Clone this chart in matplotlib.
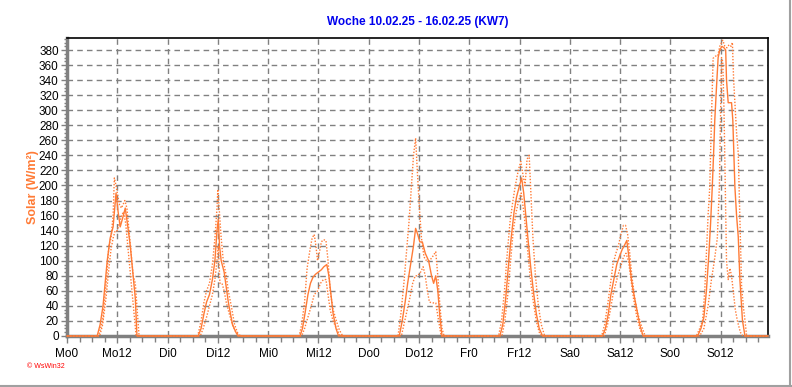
import numpy as np
import matplotlib.pyplot as plt

# Solar radiation, week 10.02.25 - 16.02.25; hours are local hour of each day
days = ['Mo', 'Di', 'Mi', 'Do', 'Fr', 'Sa', 'So']

mo_mean_h = [7.2, 7.9, 8.6, 9.6, 10.3, 11.0, 11.7, 12.2, 12.7, 13.2, 13.9, 14.4, 15.1, 15.8, 16.3, 16.7]
mo_mean_v = [0, 15, 40, 100, 130, 145, 190, 165, 145, 155, 170, 150, 120, 80, 50, 0]
mo_max_h = [7.5, 8.5, 9.5, 10.0, 10.5, 11.0, 11.3, 11.7, 12.0, 12.5, 13.0, 13.8, 14.3, 14.8, 15.3, 15.8, 16.3, 16.8, 17.2]
mo_max_v = [0, 20, 80, 120, 130, 160, 210, 200, 190, 175, 170, 180, 170, 140, 110, 80, 70, 30, 0]
mo_min_h = [7.8, 8.5, 9.3, 10.0, 10.5, 11.0, 11.5, 12.0, 12.5, 13.0, 13.5, 14.0, 14.5, 15.0, 15.5, 16.0, 16.5]
mo_min_v = [0, 15, 50, 90, 115, 130, 140, 140, 150, 160, 165, 150, 120, 90, 60, 30, 0]

di_mean_h = [7.3, 8.0, 8.7, 9.3, 10.0, 10.7, 11.3, 11.8, 12.1, 12.4, 12.8, 13.5, 14.0, 14.5, 15.0, 15.5, 16.3, 16.8]
di_mean_v = [0, 10, 30, 45, 55, 75, 100, 140, 155, 120, 100, 85, 65, 45, 30, 15, 5, 0]
di_max_h = [7.2, 8.0, 8.7, 9.3, 10.0, 10.7, 11.3, 11.8, 12.0, 12.3, 12.8, 13.3, 14.0, 14.5, 15.2, 16.0, 17.0]
di_max_v = [0, 20, 45, 60, 70, 95, 130, 170, 195, 170, 130, 100, 80, 60, 40, 15, 0]
di_min_h = [7.8, 8.5, 9.3, 10.0, 10.7, 11.3, 11.8, 12.1, 12.5, 13.0, 13.5, 14.0, 14.7, 15.5, 16.3, 17.5]
di_min_v = [0, 10, 25, 40, 55, 75, 100, 120, 70, 70, 60, 45, 30, 15, 5, 0]

mi_mean_h = [7.6, 8.2, 8.8, 9.5, 10.1, 10.7, 11.3, 12.0, 12.7, 13.3, 14.0, 14.5, 15.0, 15.5, 16.2, 16.8]
mi_mean_v = [0, 10, 30, 55, 70, 78, 82, 85, 88, 92, 95, 80, 55, 30, 10, 0]
mi_max_h = [7.4, 8.0, 8.7, 9.3, 10.0, 10.5, 11.0, 11.4, 11.8, 12.2, 12.7, 13.2, 13.8, 14.3, 14.8, 15.5, 16.3, 17.0, 17.8]
mi_max_v = [0, 15, 45, 90, 115, 130, 135, 120, 100, 110, 125, 128, 127, 100, 60, 35, 20, 8, 0]
mi_min_h = [8.0, 8.7, 9.5, 10.3, 11.0, 11.8, 12.5, 13.2, 13.8, 14.3, 14.8, 15.5, 16.3, 17.2]
mi_min_v = [0, 10, 25, 40, 55, 60, 70, 75, 75, 55, 35, 20, 10, 0]

do_mean_h = [7.3, 8.0, 8.7, 9.3, 10.0, 10.7, 11.2, 11.7, 12.2, 12.8, 13.5, 14.3, 15.0, 15.5, 16.0, 16.5, 17.0, 17.5]
do_mean_v = [0, 20, 45, 70, 95, 120, 143, 135, 125, 125, 110, 100, 80, 70, 80, 60, 25, 0]
do_max_h = [7.0, 7.7, 8.4, 9.0, 9.6, 10.2, 10.7, 11.2, 11.6, 12.1, 12.6, 13.2, 13.8, 14.5, 15.2, 16.0, 16.5, 17.0, 17.5, 18.0]
do_max_v = [0, 30, 70, 110, 150, 200, 240, 263, 220, 170, 130, 105, 100, 100, 105, 112, 80, 40, 10, 0]
do_min_h = [7.8, 8.4, 9.0, 9.8, 10.5, 11.1, 11.7, 12.4, 13.0, 13.5, 14.0, 14.5, 15.3, 16.0, 16.7, 17.3]
do_min_v = [0, 15, 30, 50, 70, 80, 80, 85, 92, 80, 60, 45, 44, 44, 20, 0]

fr_mean_h = [7.3, 8.0, 8.7, 9.3, 10.0, 10.7, 11.3, 12.0, 12.5, 13.0, 13.5, 14.0, 14.7, 15.3, 16.0, 16.7, 17.5]
fr_mean_v = [0, 15, 50, 90, 130, 165, 185, 200, 210, 190, 160, 130, 90, 60, 30, 10, 0]
fr_max_h = [7.0, 7.7, 8.4, 9.0, 9.7, 10.3, 11.0, 11.7, 12.3, 12.8, 13.3, 13.8, 14.3, 14.7, 15.2, 15.8, 16.5, 17.2, 18.0]
fr_max_v = [0, 20, 60, 105, 150, 175, 200, 220, 232, 215, 200, 235, 240, 190, 130, 80, 40, 15, 0]
fr_min_h = [7.8, 8.5, 9.2, 9.8, 10.5, 11.2, 11.8, 12.4, 12.9, 13.5, 14.0, 14.6, 15.3, 16.0, 16.7, 17.3]
fr_min_v = [0, 20, 55, 95, 140, 165, 180, 190, 170, 140, 110, 75, 45, 20, 5, 0]

sa_mean_h = [7.8, 8.5, 9.2, 9.8, 10.5, 11.2, 11.8, 12.5, 13.0, 13.6, 14.1, 14.7, 15.3, 16.0, 16.7, 17.5]
sa_mean_v = [0, 10, 30, 55, 75, 95, 105, 115, 120, 127, 105, 75, 55, 35, 15, 0]
sa_max_h = [7.6, 8.3, 9.0, 9.7, 10.3, 11.0, 11.6, 12.2, 12.8, 13.3, 13.8, 14.3, 14.8, 15.5, 16.2, 17.0, 18.0]
sa_max_v = [0, 15, 40, 70, 95, 110, 120, 135, 147, 147, 135, 110, 80, 50, 30, 15, 0]
sa_min_h = [8.2, 9.0, 9.7, 10.3, 11.0, 11.7, 12.3, 12.8, 13.4, 14.0, 14.6, 15.2, 16.0, 16.8, 17.6]
sa_min_v = [0, 15, 35, 55, 70, 85, 95, 105, 110, 100, 75, 50, 25, 8, 0]

so_mean_h = [6.5, 7.3, 8.0, 8.6, 9.2, 9.6, 10.0, 10.3, 10.6, 11.0, 11.4, 11.8, 12.3, 12.8, 13.2, 13.4, 13.8, 14.6, 14.9, 15.4, 15.8, 16.2, 16.6, 17.2, 17.8]
so_mean_v = [0, 10, 25, 60, 110, 150, 198, 240, 287, 330, 370, 380, 385, 383, 380, 340, 310, 310, 287, 198, 160, 132, 74, 21, 0]
so_max_h = [6.2, 7.0, 7.7, 8.2, 8.6, 9.0, 9.4, 9.8, 10.2, 10.8, 11.3, 11.8, 12.5, 13.0, 13.5, 14.0, 14.5, 14.8, 15.1, 15.4, 15.8, 16.2, 16.6, 17.0, 17.5, 17.8, 18.2]
so_max_v = [0, 10, 21, 60, 110, 160, 198, 287, 369, 372, 372, 385, 393, 385, 383, 387, 385, 390, 340, 309, 270, 243, 154, 65, 35, 21, 0]
so_min_h = [7.0, 8.0, 9.0, 9.8, 10.5, 11.2, 11.7, 12.0, 12.2, 12.5, 12.8, 13.1, 13.4, 13.8, 14.2, 14.6, 15.0, 15.5, 16.0, 16.7, 17.3]
so_min_v = [0, 10, 40, 75, 100, 130, 200, 300, 370, 365, 300, 200, 100, 75, 90, 80, 60, 35, 20, 5, 0]

mean_h = [mo_mean_h, di_mean_h, mi_mean_h, do_mean_h, fr_mean_h, sa_mean_h, so_mean_h]
mean_v = [mo_mean_v, di_mean_v, mi_mean_v, do_mean_v, fr_mean_v, sa_mean_v, so_mean_v]
max_h = [mo_max_h, di_max_h, mi_max_h, do_max_h, fr_max_h, sa_max_h, so_max_h]
max_v = [mo_max_v, di_max_v, mi_max_v, do_max_v, fr_max_v, sa_max_v, so_max_v]
min_h = [mo_min_h, di_min_h, mi_min_h, do_min_h, fr_min_h, sa_min_h, so_min_h]
min_v = [mo_min_v, di_min_v, mi_min_v, do_min_v, fr_min_v, sa_min_v, so_min_v]

week_end = 167.3


def week_series(hours, values):
    # join the days into one series, zero at night
    x = [0.0]
    y = [0.0]
    for d in range(7):
        x += [d * 24 + h for h in hours[d]]
        y += list(values[d])
    x.append(week_end)
    y.append(0.0)
    return np.array(x), np.array(y)


orange = '#FF7B36'
grey = '#808080'

plt.rcParams['font.family'] = ['Liberation Sans', 'DejaVu Sans']

fig = plt.figure(figsize=(7.92, 3.87), dpi=100)
ax = fig.add_axes([67 / 792, 51 / 387, 701 / 792, 298 / 387])

for hrs, vals, ls, lw in [(max_h, max_v, (0, (1, 1.2)), 1.0), (min_h, min_v, (0, (1, 1.2)), 1.0), (mean_h, mean_v, '-', 1.0)]:
    x, y = week_series(hrs, vals)
    ax.plot(x, y, color=orange, linestyle=ls, linewidth=lw, zorder=3, clip_on=False)

ax.set_xlim(0, week_end)
ax.set_ylim(0, 396)

ax.set_xticks(np.arange(0, 168, 12))
ax.set_xticklabels([f'{d}{h}' for d in days for h in (0, 12)])
ax.set_xticks(np.arange(0, 168, 3), minor=True)
ax.set_yticks(np.arange(0, 381, 20))
ax.set_yticks(np.arange(0, 396, 5), minor=True)

ax.grid(True, which='major', color=grey, linestyle=(0, (4, 3)), linewidth=1.0)
ax.tick_params(axis='both', which='both', direction='out', color=grey, labelsize=8.5, labelcolor='black')
ax.tick_params(axis='x', which='major', length=5, width=1)
ax.tick_params(axis='x', which='minor', length=4, width=1)
ax.tick_params(axis='y', which='major', length=4, width=1, pad=2)
ax.tick_params(axis='y', which='minor', length=2, width=1)

ax.spines['left'].set_color(grey)
ax.spines['left'].set_linewidth(2.5)
ax.spines['bottom'].set_color(grey)
ax.spines['bottom'].set_linewidth(2.5)
ax.spines['top'].set_linewidth(1.2)
ax.spines['right'].set_linewidth(1.2)

ax.set_title('Woche 10.02.25 - 16.02.25 (KW7)', color='#0000EE', fontsize=8.5,
             fontweight='bold', pad=9)
ax.set_ylabel('Solar (W/m²)', color=orange, fontsize=9, fontweight='bold', labelpad=0)

fig.text(27 / 792, 1 - 367 / 387, '© WsWin32', color='red', fontsize=5, va='center')

# grey window frame at right and bottom
fig.add_artist(plt.Line2D([0, 1], [0.003, 0.003], color='#A0A0A0', linewidth=1.5, transform=fig.transFigure))
fig.add_artist(plt.Line2D([0.998, 0.998], [0, 1], color='#A0A0A0', linewidth=1.5, transform=fig.transFigure))

fig.savefig('out.png', dpi=100)
